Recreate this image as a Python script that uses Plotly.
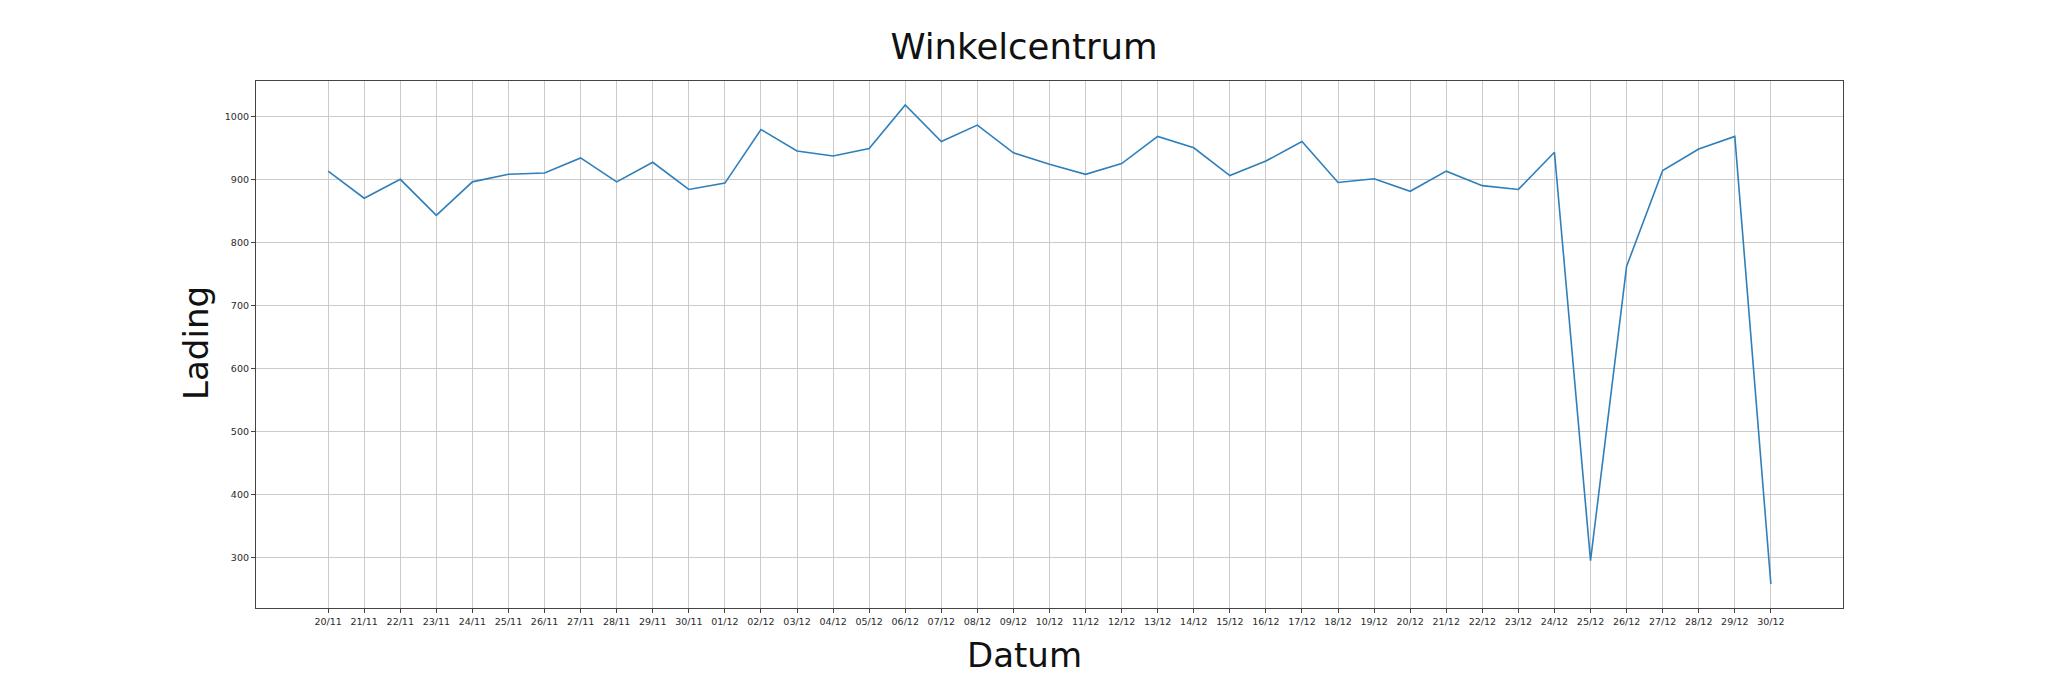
"""
Daily 'Lading' line chart for Winkelcentrum, redrawn with Plotly.
"""

import plotly.graph_objects as go

dates = [
    "20/11", "21/11", "22/11", "23/11", "24/11", "25/11", "26/11", "27/11",
    "28/11", "29/11", "30/11", "01/12", "02/12", "03/12", "04/12", "05/12",
    "06/12", "07/12", "08/12", "09/12", "10/12", "11/12", "12/12", "13/12",
    "14/12", "15/12", "16/12", "17/12", "18/12", "19/12", "20/12", "21/12",
    "22/12", "23/12", "24/12", "25/12", "26/12", "27/12", "28/12", "29/12",
    "30/12",
]
lading = [
    913, 870, 900, 843, 896, 908, 910, 934,
    896, 927, 884, 894, 979, 945, 937, 949,
    1018, 960, 986, 942, 924, 908, 925, 968,
    950, 906, 929, 960, 895, 901, 881, 913,
    890, 884, 943, 295, 762, 914, 948, 968,
    258,
]
y_ticks = [300, 400, 500, 600, 700, 800, 900, 1000]

title_text = "Winkelcentrum"
x_label = "Datum"
y_label = "Lading"

label_font = "DejaVu Sans, sans-serif"
tick_font = dict(family="DejaVu Sans", size=9.5, color="#2a2a2a")

# the page body adds an 8px margin, so the figure is a bit smaller than the window
W, H, OFF = 2032, 667, 8

fig = go.Figure()
fig.add_trace(go.Scatter(
    x=dates, y=lading, mode="lines",
    line=dict(color="#2f7fba", width=1.6),
    showlegend=False,
))

axis_common = dict(
    showline=True, mirror=True, linecolor="#444444", linewidth=1.2,
    showgrid=True, gridcolor="#cbcbcb", gridwidth=1,
    ticks="outside", ticklen=4, tickcolor="#444444", tickwidth=1,
    tickfont=tick_font, zeroline=False,
)

fig.update_xaxes(type="category", range=[-2, 42], **axis_common)
fig.update_yaxes(range=[220, 1056], tickvals=y_ticks, **axis_common)

fig.update_layout(
    width=W, height=H,
    margin=dict(l=256 - OFF, r=W + OFF - 1843, t=81 - OFF, b=H + OFF - 608),
    paper_bgcolor="white", plot_bgcolor="white",
    title=dict(
        text=title_text, x=(1024 - 256) / 1587, xref="paper", xanchor="center",
        y=1 - (47 - OFF) / H, yref="container", yanchor="middle",
        font=dict(family=label_font, size=35.5, color="#111111"),
    ),
)

# axis labels sit centred on the figure rather than on the axes
fig.add_annotation(
    text=x_label, xref="paper", yref="paper",
    x=(1024 - 256) / 1587, y=-0.089, xanchor="center", yanchor="middle",
    showarrow=False, font=dict(family=label_font, size=34, color="#111111"),
)
fig.add_annotation(
    text=y_label, xref="paper", yref="paper", textangle=-90,
    x=(196 - 256) / 1587, y=0.503, xanchor="center", yanchor="middle",
    showarrow=False, font=dict(family=label_font, size=34, color="#111111"),
)

fig.write_html("out.html")
